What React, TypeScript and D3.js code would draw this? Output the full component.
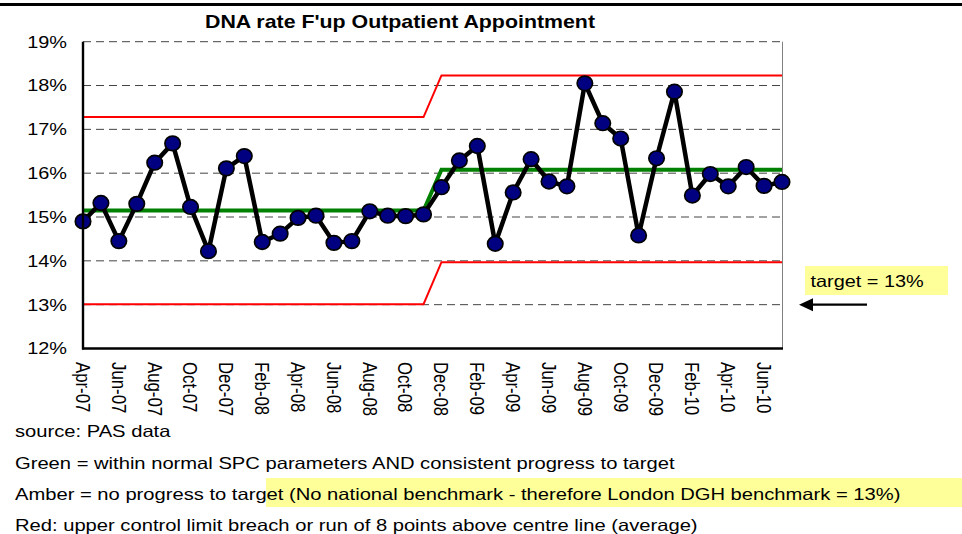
import React from "react";
import * as d3 from "d3";

const months = [
  "Apr-07","May-07","Jun-07","Jul-07","Aug-07","Sep-07","Oct-07","Nov-07","Dec-07","Jan-08",
  "Feb-08","Mar-08","Apr-08","May-08","Jun-08","Jul-08","Aug-08","Sep-08","Oct-08","Nov-08",
  "Dec-08","Jan-09","Feb-09","Mar-09","Apr-09","May-09","Jun-09","Jul-09","Aug-09","Sep-09",
  "Oct-09","Nov-09","Dec-09","Jan-10","Feb-10","Mar-10","Apr-10","May-10","Jun-10","Jul-10",
];

const dnaRate = [
  14.90, 15.32, 14.45, 15.30, 16.24, 16.68, 15.23, 14.22, 16.11, 16.39,
  14.43, 14.62, 14.98, 15.03, 14.41, 14.45, 15.13, 15.03, 15.02, 15.06,
  15.68, 16.29, 16.62, 14.39, 15.56, 16.32, 15.81, 15.70, 18.05, 17.14,
  16.79, 14.58, 16.34, 17.86, 15.49, 15.98, 15.70, 16.14, 15.71, 15.80,
];

const centreLine = [
  15.15, 15.15, 15.15, 15.15, 15.15, 15.15, 15.15, 15.15, 15.15, 15.15,
  15.15, 15.15, 15.15, 15.15, 15.15, 15.15, 15.15, 15.15, 15.15, 15.15,
  16.08, 16.08, 16.08, 16.08, 16.08, 16.08, 16.08, 16.08, 16.08, 16.08,
  16.08, 16.08, 16.08, 16.08, 16.08, 16.08, 16.08, 16.08, 16.08, 16.08,
];

const upperLimit = [
  17.28, 17.28, 17.28, 17.28, 17.28, 17.28, 17.28, 17.28, 17.28, 17.28,
  17.28, 17.28, 17.28, 17.28, 17.28, 17.28, 17.28, 17.28, 17.28, 17.28,
  18.23, 18.23, 18.23, 18.23, 18.23, 18.23, 18.23, 18.23, 18.23, 18.23,
  18.23, 18.23, 18.23, 18.23, 18.23, 18.23, 18.23, 18.23, 18.23, 18.23,
];

const lowerLimit = [
  13.01, 13.01, 13.01, 13.01, 13.01, 13.01, 13.01, 13.01, 13.01, 13.01,
  13.01, 13.01, 13.01, 13.01, 13.01, 13.01, 13.01, 13.01, 13.01, 13.01,
  13.97, 13.97, 13.97, 13.97, 13.97, 13.97, 13.97, 13.97, 13.97, 13.97,
  13.97, 13.97, 13.97, 13.97, 13.97, 13.97, 13.97, 13.97, 13.97, 13.97,
];

const yTicks = [12, 13, 14, 15, 16, 17, 18, 19];
const target = 13;

const title = "DNA rate F'up Outpatient Appointment";
const notes = [
  "source: PAS data",
  "Green = within normal SPC parameters AND consistent progress to target",
  "Amber = no progress to target (No national benchmark - therefore London DGH benchmark = 13%)",
  "Red: upper control limit breach or run of 8 points above centre line (average)",
];

const FONT = "'Liberation Sans', Arial, Helvetica, sans-serif";
const SX = 1.22; // horizontal stretch of the source picture
const SX_NOTES = 1.238;

export default function App() {
  const W = 962;
  const H = 534;
  const left = 83;
  const right = 782;
  const top = 41.7;
  const bottom = 348.5;

  const x = d3.scalePoint<number>().domain(d3.range(months.length)).range([left, right]);
  const y = d3.scaleLinear().domain([12, 19]).range([bottom, top]);

  const lineGen = (vals: number[]) =>
    d3.line<number>().x((_, i) => x(i) as number).y((d) => y(d))(vals) || "";

  const noteBaselines = [437, 468.5, 500, 531];

  return (
    <svg
      width={W}
      height={H}
      style={{ position: "absolute", left: 0, top: 0, background: "#fff" }}
      fontFamily={FONT}
    >
      <rect x={0} y={0} width={W} height={H} fill="#fff" />
      <rect x={0} y={3} width={W} height={3} fill="#000" />

      {/* title */}
      <text
        transform={`translate(400,28.3) scale(${SX},1)`}
        textAnchor="middle"
        fontSize={17.5}
        fontWeight="bold"
        fill="#000"
      >
        {title}
      </text>

      {/* gridlines */}
      {yTicks.map((t) => (
        <line
          key={t}
          x1={left}
          x2={right}
          y1={y(t)}
          y2={y(t)}
          stroke="#444"
          strokeWidth={1}
          strokeDasharray="8,5"
        />
      ))}

      {/* right border */}
      <line x1={right + 0.5} x2={right + 0.5} y1={top} y2={bottom} stroke="#808080" strokeWidth={1} />

      {/* control limits */}
      <path d={lineGen(upperLimit)} fill="none" stroke="#ff0000" strokeWidth={2} />
      <path d={lineGen(lowerLimit)} fill="none" stroke="#ff0000" strokeWidth={2} />
      <path d={lineGen(centreLine)} fill="none" stroke="#008000" strokeWidth={4} />

      {/* data */}
      <path d={lineGen(dnaRate)} fill="none" stroke="#000" strokeWidth={4.5} strokeLinejoin="round" />
      {dnaRate.map((v, i) => (
        <ellipse
          key={i}
          cx={x(i) as number}
          cy={y(v)}
          rx={7.7}
          ry={7.3}
          fill="#000080"
          stroke="#000"
          strokeWidth={1.7}
        />
      ))}

      {/* axes */}
      <line x1={left} x2={left} y1={top} y2={bottom + 1} stroke="#000" strokeWidth={2.4} />
      <line x1={left - 1} x2={right + 1} y1={bottom} y2={bottom} stroke="#000" strokeWidth={2.4} />

      {/* y labels */}
      {yTicks.map((t) => (
        <text
          key={t}
          transform={`translate(67,${y(t) + 5.9}) scale(${SX},1)`}
          textAnchor="end"
          fontSize={16.3}
          fill="#000"
        >
          {t}%
        </text>
      ))}

      {/* x labels */}
      {months.map((m, i) =>
        i % 2 === 0 ? (
          <text
            key={m}
            transform={`translate(${x(i)},362) scale(${SX},1) rotate(90)`}
            fontSize={16.8}
            dy="0.35em"
            fill="#000"
          >
            {m}
          </text>
        ) : null
      )}

      {/* target annotation */}
      <rect x={805} y={266} width={143} height={29} fill="#ffff99" />
      <text transform={`translate(810.5,286.7) scale(${SX},1)`} fontSize={16.3} fill="#000">
        target = {target}%
      </text>
      <line x1={810} x2={867} y1={y(target)} y2={y(target)} stroke="#000" strokeWidth={2.2} />
      <polygon
        points={`799,${y(target)} 813,${y(target) - 6.5} 813,${y(target) + 6.5}`}
        fill="#000"
      />

      {/* notes */}
      <rect x={266} y={478} width={W - 266} height={29} fill="#ffff99" />
      {notes.map((n, i) => (
        <text
          key={i}
          transform={`translate(15,${noteBaselines[i]}) scale(${SX_NOTES},1)`}
          fontSize={16.3}
          fill="#000"
        >
          {n}
        </text>
      ))}
    </svg>
  );
}
